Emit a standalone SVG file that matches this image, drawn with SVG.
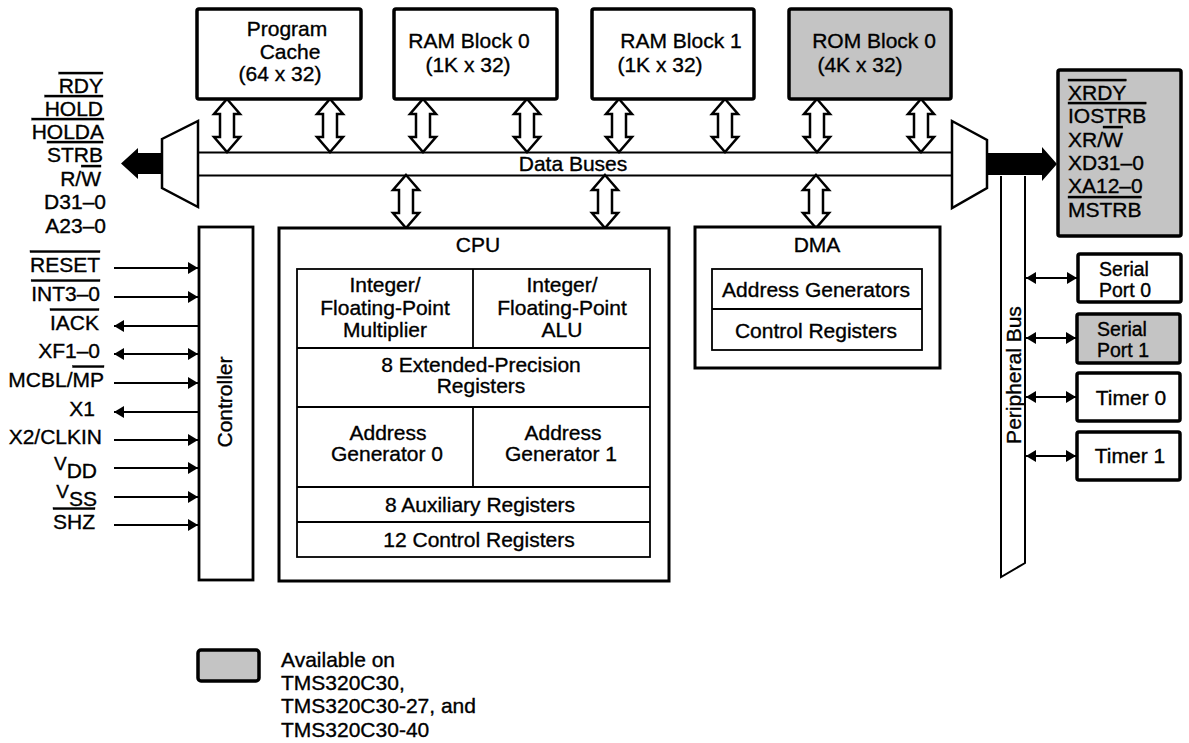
<svg xmlns="http://www.w3.org/2000/svg" width="1189" height="743" viewBox="0 0 1189 743">
<style>
.t{font-family:"Liberation Sans",Arial,Helvetica,sans-serif;font-size:21px;fill:#000;stroke:#000;stroke-width:0.35}
.c{text-anchor:middle}
.e{text-anchor:end}
.ov{text-decoration:overline}
.sp{font-size:19.5px}
.blk{fill:#fff;stroke:#000;stroke-width:3.5}
.gry{fill:#c4c4c4;stroke:#000;stroke-width:3.5}
.box{fill:#fff;stroke:#000;stroke-width:3}
.in{fill:none;stroke:#000;stroke-width:1.8}
.ln{fill:none;stroke:#000;stroke-width:2}
.pin{fill:none;stroke:#000;stroke-width:2;marker-end:url(#ah)}
.dbl{fill:#fff;stroke:#000;stroke-width:2.5;stroke-linejoin:miter}
</style>
<defs>
<marker id="ah" viewBox="0 0 10 12" refX="10" refY="6" markerWidth="10" markerHeight="12" orient="auto-start-reverse" markerUnits="userSpaceOnUse"><path d="M0,0 L10,6 L0,12 Z" fill="#000"/></marker>
<path id="dbl" class="dbl" d="M0,0 L13,15 L7,15 L7,38 L13,38 L0,53 L-13,38 L-7,38 L-7,15 L-13,15 Z"/>
</defs>
<rect width="1189" height="743" fill="#fff"/>

<g id="connectors">
  <!-- data bus -->
  <line class="ln" x1="198" y1="152.5" x2="952" y2="152.5"/>
  <line class="ln" x1="198" y1="175.5" x2="952" y2="175.5"/>
  <!-- memory to bus -->
  <use href="#dbl" x="227" y="99"/>
  <use href="#dbl" x="330" y="99"/>
  <use href="#dbl" x="423" y="99"/>
  <use href="#dbl" x="527" y="99"/>
  <use href="#dbl" x="619" y="99"/>
  <use href="#dbl" x="725" y="99"/>
  <use href="#dbl" x="817" y="99"/>
  <use href="#dbl" x="921" y="99"/>
  <!-- bus to CPU / DMA -->
  <use href="#dbl" x="406" y="175"/>
  <use href="#dbl" x="605" y="175"/>
  <use href="#dbl" x="816" y="175"/>
  <!-- external bus arrows -->
  <path d="M162,153 L138,153 L138,148 L121,163.5 L138,179 L138,174 L162,174 Z" fill="#000"/>
  <path d="M986,153 L1042,153 L1042,147 L1057,164 L1042,181 L1042,175 L986,175 Z" fill="#000"/>
  <!-- controller pins -->
  <line class="pin" x1="114" y1="268" x2="198" y2="268"/>
  <line class="pin" x1="114" y1="297" x2="198" y2="297"/>
  <line class="pin" x1="198" y1="326" x2="114" y2="326"/>
  <line class="pin" x1="114" y1="354" x2="198" y2="354" style="marker-start:url(#ah)"/>
  <line class="pin" x1="114" y1="383" x2="198" y2="383"/>
  <line class="pin" x1="198" y1="412" x2="114" y2="412"/>
  <line class="pin" x1="114" y1="440" x2="198" y2="440"/>
  <line class="pin" x1="114" y1="468" x2="198" y2="468"/>
  <line class="pin" x1="114" y1="497" x2="198" y2="497"/>
  <line class="pin" x1="114" y1="525" x2="198" y2="525"/>
  <!-- peripheral bus links -->
  <line class="pin" x1="1026" y1="278" x2="1077" y2="278" style="marker-start:url(#ah)"/>
  <line class="pin" x1="1026" y1="338" x2="1076" y2="338" style="marker-start:url(#ah)"/>
  <line class="pin" x1="1026" y1="397" x2="1076" y2="397" style="marker-start:url(#ah)"/>
  <line class="pin" x1="1026" y1="456" x2="1076" y2="456" style="marker-start:url(#ah)"/>
</g>

<g id="mux-left">
  <path d="M162,139 L198,121 L198,207 L162,188 Z" fill="#fff" stroke="#000" stroke-width="2.5"/>
</g>
<g id="mux-right">
  <path d="M952,121 L987,140 L987,188 L952,208 Z" fill="#fff" stroke="#000" stroke-width="2.5"/>
</g>
<text class="t c" x="573" y="171">Data Buses</text>

<g id="ext-left-signals">
  <text class="t e" x="103" y="93"><tspan class="ov">RDY</tspan></text>
  <text class="t e" x="103" y="116"><tspan class="ov">HOLD</tspan></text>
  <text class="t e" x="104" y="139"><tspan class="ov">HOLDA</tspan></text>
  <text class="t e" x="103" y="162"><tspan class="ov">STRB</tspan></text>
  <text class="t e" x="101" y="186">R/<tspan class="ov">W</tspan></text>
  <text class="t e" x="106" y="209">D31–0</text>
  <text class="t e" x="106" y="233">A23–0</text>
</g>

<g id="program-cache">
  <rect class="blk" x="197" y="9" width="164" height="90" rx="2"/>
  <text class="t c" x="287" y="36">Program</text>
  <text class="t c" x="290" y="59">Cache</text>
  <text class="t c" x="280" y="81">(64 x 32)</text>
</g>
<g id="ram0">
  <rect class="blk" x="394" y="9" width="163" height="90" rx="2"/>
  <text class="t c" x="469" y="48">RAM Block 0</text>
  <text class="t c" x="468" y="72">(1K x 32)</text>
</g>
<g id="ram1">
  <rect class="blk" x="592" y="9" width="162" height="90" rx="2"/>
  <text class="t c" x="681" y="48">RAM Block 1</text>
  <text class="t c" x="660" y="72">(1K x 32)</text>
</g>
<g id="rom0">
  <rect class="gry" x="789" y="9" width="162" height="90" rx="2"/>
  <text class="t c" x="874" y="48">ROM Block 0</text>
  <text class="t c" x="860" y="72">(4K x 32)</text>
</g>

<g id="ext-right">
  <rect class="gry" x="1058" y="70" width="123" height="166" rx="2" stroke-width="3"/>
  <text class="t" x="1068" y="100"><tspan class="ov">XRDY</tspan></text>
  <text class="t" x="1068" y="123"><tspan class="ov">IOSTRB</tspan></text>
  <text class="t" x="1068" y="147">XR/<tspan class="ov">W</tspan></text>
  <text class="t" x="1068" y="170">XD31–0</text>
  <text class="t" x="1068" y="193">XA12–0</text>
  <text class="t" x="1068" y="217"><tspan class="ov">MSTRB</tspan></text>
</g>

<g id="pins-left">
  <text class="t e" x="100" y="271.5"><tspan class="ov">RESET</tspan></text>
  <text class="t e" x="100" y="300.5"><tspan class="ov">INT3–0</tspan></text>
  <text class="t e" x="99" y="329.5"><tspan class="ov">IACK</tspan></text>
  <text class="t e" x="100" y="357.5">XF1–0</text>
  <text class="t e" x="104" y="386.5">MCBL/<tspan class="ov">MP</tspan></text>
  <text class="t e" x="95" y="415.5">X1</text>
  <text class="t e" x="102" y="443.5">X2/CLKIN</text>
  <text class="t e" x="97" y="478"><tspan dy="-8" font-size="19">V</tspan><tspan dy="8">DD</tspan></text>
  <text class="t e" x="97" y="506"><tspan dy="-8" font-size="19">V</tspan><tspan dy="8">SS</tspan></text>
  <text class="t e" x="95" y="528.5"><tspan class="ov">SHZ</tspan></text>
</g>

<g id="controller">
  <rect x="199" y="227" width="54" height="353" fill="#fff" stroke="#000" stroke-width="2.8"/>
  <text class="t c" transform="translate(232,402) rotate(-90)">Controller</text>
</g>

<g id="cpu">
  <rect class="box" x="279" y="228" width="390" height="353"/>
  <text class="t c" x="478" y="252">CPU</text>
  <rect class="in" x="297" y="269" width="353" height="288"/>
  <line class="in" x1="297" y1="348" x2="650" y2="348"/>
  <line class="in" x1="297" y1="407" x2="650" y2="407"/>
  <line class="in" x1="297" y1="487" x2="650" y2="487"/>
  <line class="in" x1="297" y1="522" x2="650" y2="522"/>
  <line class="in" x1="473" y1="269" x2="473" y2="348"/>
  <line class="in" x1="473" y1="407" x2="473" y2="487"/>
  <text class="t c" x="385" y="292">Integer/</text>
  <text class="t c" x="385" y="315">Floating-Point</text>
  <text class="t c" x="385" y="337">Multiplier</text>
  <text class="t c" x="562" y="292">Integer/</text>
  <text class="t c" x="562" y="315">Floating-Point</text>
  <text class="t c" x="562" y="337">ALU</text>
  <text class="t c" x="481" y="372">8 Extended-Precision</text>
  <text class="t c" x="481" y="393">Registers</text>
  <text class="t c" x="388" y="440">Address</text>
  <text class="t c" x="387" y="461">Generator 0</text>
  <text class="t c" x="563" y="440">Address</text>
  <text class="t c" x="561" y="461">Generator 1</text>
  <text class="t c" x="480" y="512">8 Auxiliary Registers</text>
  <text class="t c" x="479" y="547">12 Control Registers</text>
</g>

<g id="dma">
  <rect class="box" x="695" y="227" width="245" height="141"/>
  <text class="t c" x="817" y="252">DMA</text>
  <rect class="in" x="712" y="269" width="210" height="81"/>
  <line class="in" x1="712" y1="309" x2="922" y2="309"/>
  <text class="t c" x="816" y="297">Address Generators</text>
  <text class="t c" x="816" y="338">Control Registers</text>
</g>

<g id="peripheral-bus">
  <path d="M1001,176 L1001,577 L1025,563 L1025,176" fill="none" stroke="#000" stroke-width="2"/>
  <text class="t c" transform="translate(1021,375) rotate(-90)">Peripheral Bus</text>
</g>

<g id="serial-port-0">
  <rect class="blk" x="1078" y="254" width="103" height="48" rx="2"/>
  <text class="t c sp" x="1124" y="276">Serial</text>
  <text class="t c sp" x="1125" y="297">Port 0</text>
</g>
<g id="serial-port-1">
  <rect class="gry" x="1077" y="314" width="103" height="49" rx="2"/>
  <text class="t c sp" x="1122" y="336">Serial</text>
  <text class="t c sp" x="1123" y="357">Port 1</text>
</g>
<g id="timer-0">
  <rect class="blk" x="1077" y="373" width="103" height="48" rx="2"/>
  <text class="t c" x="1131" y="405">Timer 0</text>
</g>
<g id="timer-1">
  <rect class="blk" x="1077" y="432" width="103" height="48" rx="2"/>
  <text class="t c" x="1130" y="463">Timer 1</text>
</g>

<g id="legend">
  <rect class="gry" x="198" y="650" width="61" height="31" rx="3"/>
  <text class="t" x="281" y="667">Available on</text>
  <text class="t" x="281" y="690">TMS320C30,</text>
  <text class="t" x="281" y="713">TMS320C30-27, and</text>
  <text class="t" x="281" y="737">TMS320C30-40</text>
</g>
</svg>
